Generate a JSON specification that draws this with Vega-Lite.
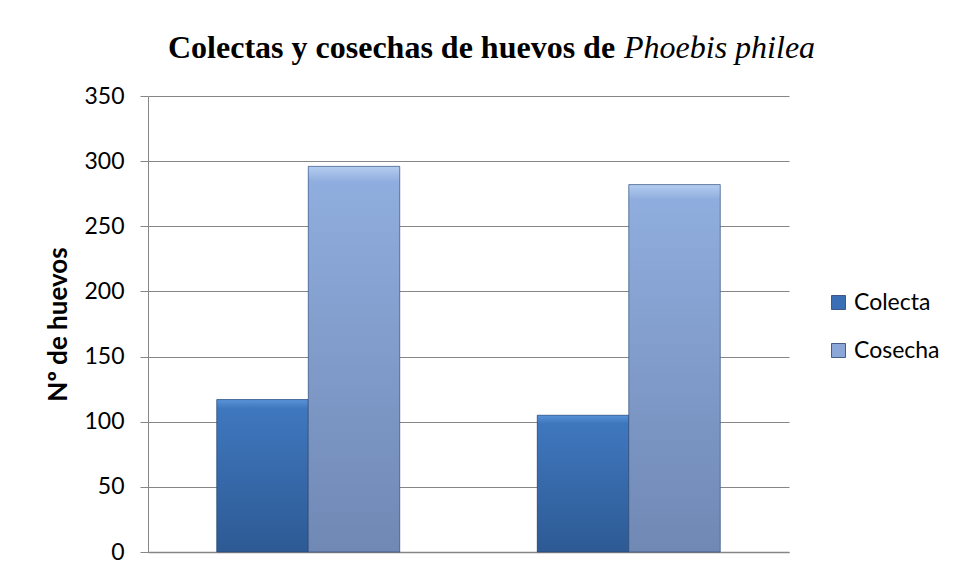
{
  "$schema": "https://vega.github.io/schema/vega-lite/v6.json",
  "autosize": {"type": "none"},
  "padding": {"left": 148, "top": 96, "right": 171, "bottom": 27},
  "width": 641,
  "height": 456,
  "background": "white",
  "title": {
    "text": "Colectas y cosechas de huevos de",
    "subtitle": "\u200b\u00a0\u00a0\u00a0\u00a0\u00a0\u00a0\u00a0\u00a0\u00a0\u00a0\u00a0\u00a0\u00a0\u00a0\u00a0\u00a0\u00a0\u00a0\u00a0\u00a0\u00a0\u00a0\u00a0\u00a0\u00a0\u00a0\u00a0\u00a0\u00a0\u00a0\u00a0\u00a0\u00a0\u00a0\u00a0\u00a0\u00a0\u00a0\u00a0\u00a0\u00a0\u00a0\u00a0\u00a0\u00a0\u00a0\u00a0\u00a0\u00a0\u00a0\u00a0\u00a0\u00a0\u00a0\u00a0\u00a0\u00a0Phoebis philea",
    "anchor": "start",
    "frame": "group",
    "dx": 20,
    "offset": 20,
    "font": "Liberation Serif",
    "fontSize": 32,
    "fontWeight": "bold",
    "color": "black",
    "lineHeight": 32,
    "subtitleFont": "Liberation Serif",
    "subtitleFontSize": 32,
    "subtitleFontStyle": "italic",
    "subtitleFontWeight": "normal",
    "subtitleColor": "black",
    "subtitleLineHeight": 32,
    "subtitlePadding": -32
  },
  "data": {
    "values": [
      {"grupo": "1", "serie": "Colecta", "valor": 117},
      {"grupo": "1", "serie": "Cosecha", "valor": 296},
      {"grupo": "2", "serie": "Colecta", "valor": 105},
      {"grupo": "2", "serie": "Cosecha", "valor": 282}
    ]
  },
  "encoding": {
    "x": {
      "field": "grupo",
      "type": "nominal",
      "scale": {"paddingInner": 0.429, "paddingOuter": 0.2145},
      "axis": {"labels": false, "ticks": false, "title": null, "domainColor": "#868686", "domainWidth": 1.5}
    },
    "xOffset": {"field": "serie", "type": "nominal", "scale": {"paddingInner": 0, "paddingOuter": 0}},
    "y": {
      "field": "valor",
      "type": "quantitative",
      "scale": {"domain": [0, 350], "nice": false},
      "axis": {
        "values": [0, 50, 100, 150, 200, 250, 300, 350],
        "title": "Nº de huevos",
        "titleFont": "Lato",
        "titleFontSize": 26,
        "titleFontWeight": "bold",
        "titleColor": "black",
        "titlePadding": 12,
        "labelFont": "Lato",
        "labelFontSize": 23,
        "labelColor": "black",
        "labelPadding": 16,
        "tickSize": 8,
        "tickColor": "#868686",
        "domainColor": "#868686",
        "gridColor": "#868686",
        "gridWidth": 1.2
      }
    }
  },
  "layer": [
    {
      "mark": {"type": "bar"},
      "encoding": {
        "color": {
          "field": "serie",
          "type": "nominal",
          "scale": {"domain": ["Colecta", "Cosecha"], "range": ["#3a6fb5", "#8aa7d8"]},
          "legend": {
            "title": null,
            "orient": "none",
            "legendX": 679,
            "legendY": 195,
            "symbolType": "square",
            "symbolSize": 196,
            "symbolStrokeWidth": 0.8,
            "symbolStrokeColor": "#24406b",
            "labelFont": "Lato",
            "labelFontSize": 23,
            "labelColor": "black",
            "labelOffset": 4,
            "rowPadding": 24
          }
        }
      }
    },
    {
      "mark": {"type": "bar", "stroke": "#24406b", "strokeWidth": 0.8, "strokeOpacity": 0.7},
      "encoding": {
        "fill": {
          "condition": {
            "test": "datum.serie === 'Colecta'",
            "value": {"gradient": "linear", "x1": 0, "y1": 0, "x2": 0, "y2": 1, "stops": [{"offset": 0, "color": "#5a93d8"}, {"offset": 0.06, "color": "#3f77be"}, {"offset": 1, "color": "#2d5a94"}]}
          },
          "value": {"gradient": "linear", "x1": 0, "y1": 0, "x2": 0, "y2": 1, "stops": [{"offset": 0, "color": "#b4cdf0"}, {"offset": 0.04, "color": "#8fadde"}, {"offset": 1, "color": "#7088b4"}]}
        }
      }
    }
  ],
  "config": {"view": {"stroke": null}}
}
